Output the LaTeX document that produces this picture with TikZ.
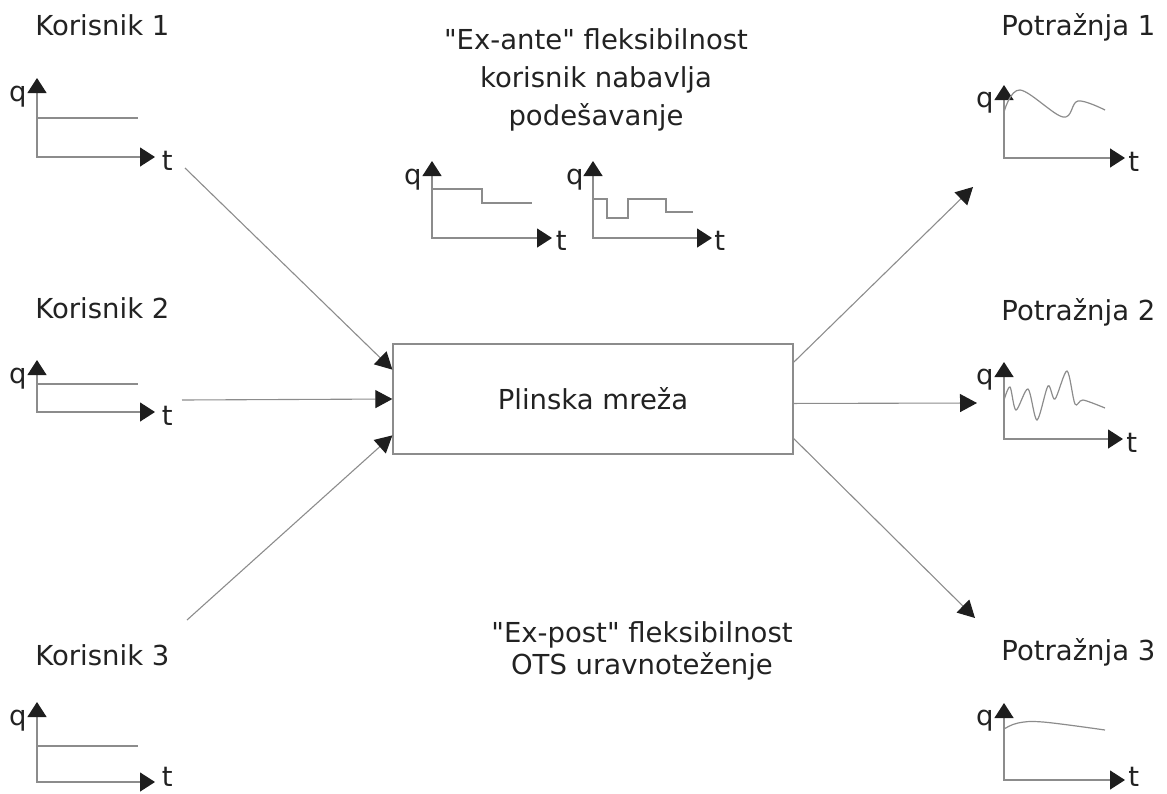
\documentclass[tikz,border=0pt]{standalone}
\usepackage{fontspec}
\setmainfont{DejaVu Sans}
\usepackage{tikz}
\usetikzlibrary{arrows.meta}
\usetikzlibrary{calc}
\definecolor{linegray}{HTML}{8C8C8C}
\definecolor{tipblack}{HTML}{1E1E1E}
\definecolor{textdark}{HTML}{222222}

\begin{document}
\begin{tikzpicture}[x=0.5pt, y=-0.5pt,
  lbl/.style={inner sep=0pt, text=textdark, font=\fontsize{13.75}{19}\selectfont},
  axis/.style={draw=linegray, line width=0.65pt, {Triangle[length=7.5pt,width=9.5pt,color=tipblack]}-{Triangle[length=7.5pt,width=9.5pt,color=tipblack]}},
  curve/.style={draw=linegray, line width=0.6pt},
  flow/.style={draw=linegray, line width=0.55pt, -{Triangle[length=8.5pt,width=9pt,color=tipblack]}},
  box/.style={draw=linegray, line width=0.65pt, minimum width=200pt, minimum height=55pt, inner sep=0pt}]
\useasboundingbox (0,0) rectangle (1167,793);
\begin{scope}
  \node[box, lbl] (net) at (593,399) {Plinska mreža}; %network
  % users
  \node[lbl, anchor=base west] (user1) at (35,35) {Korisnik 1};
  \draw[axis] (37,78) |- (155,157);
  \node[lbl, anchor=base east] (q1) at (27,101) {q};
  \node[lbl, anchor=base west] (t1) at (161.5,170) {t};
  \draw[curve] (37,118) -- (138,118); %flat
  \node[lbl, anchor=base west] (user2) at (35,318) {Korisnik 2};
  \draw[axis] (37,360) |- (155,412);
  \node[lbl, anchor=base east] (q2) at (27,383) {q};
  \node[lbl, anchor=base west] (t2) at (161.5,425) {t};
  \draw[curve] (37,384) -- (138,384); %flat
  \node[lbl, anchor=base west] (user3) at (35,665) {Korisnik 3};
  \draw[axis] (37,702) |- (155,782);
  \node[lbl, anchor=base east] (q3) at (27,725) {q};
  \node[lbl, anchor=base west] (t3) at (161.5,786) {t};
  \draw[curve] (37,746) -- (138,746); %flat
  % ex-ante
  \node[lbl, align=center] (exante) at (596,80) {\textquotedbl Ex-ante\textquotedbl{} fleksibilnost\\korisnik nabavlja\\podešavanje};
  \draw[axis] (432,161) |- (552,238);
  \node[lbl, anchor=base east] (qa) at (422,184) {q};
  \node[lbl, anchor=base west] (ta) at (555.5,250) {t};
  \draw[curve] (432,189) -| (482,203) -- (532,203); %step
  \draw[axis] (593,161) |- (712,238);
  \node[lbl, anchor=base east] (qb) at (584,184) {q};
  \node[lbl, anchor=base west] (tb) at (714,250) {t};
  \draw[curve] (593,199) -| (607,218) -| (628,199) -| (666,212) -- (693,212); %steps
  % ex-post
  \node[lbl, align=center, font=\fontsize{13.75}{16}\selectfont] (expost) at (642,651) {\textquotedbl Ex-post\textquotedbl{} fleksibilnost\\OTS uravnoteženje};
  % demand
  \node[lbl, anchor=base west] (dem1) at (1001,35) {Potražnja 1};
  \draw[axis] (1004,85) |- (1125,158);
  \node[lbl, anchor=base east] (qd1) at (994,107) {q};
  \node[lbl, anchor=base west] (td1) at (1128,171) {t};
  \draw[curve] plot[smooth, tension=0.6] coordinates {(1004,112) (1020,90) (1063,117) (1078,101) (1105,110)};
  \node[lbl, anchor=base west] (dem2) at (1001,320) {Potražnja 2};
  \draw[axis] (1004,362) |- (1123,439);
  \node[lbl, anchor=base east] (qd2) at (994,384) {q};
  \node[lbl, anchor=base west] (td2) at (1126,452) {t};
  \draw[curve] plot[smooth, tension=0.5] coordinates {(1004,400) (1010,387) (1016,410) (1028,389) (1037,420) (1048,386) (1055,399) (1067,371) (1075,404) (1083,400) (1105,408)};
  \node[lbl, anchor=base west] (dem3) at (1001,660) {Potražnja 3};
  \draw[axis] (1004,703) |- (1125,780);
  \node[lbl, anchor=base east] (qd3) at (994,725) {q};
  \node[lbl, anchor=base west] (td3) at (1128,786) {t};
  \draw[curve] plot[smooth, tension=0.6] coordinates {(1004,729) (1018,723) (1043,722) (1105,730)};
  % flows
  \coordinate (in1) at (185,168);
  \coordinate (in2) at (182,400);
  \coordinate (in3) at (187,620);
  \coordinate (out1) at (973,187);
  \coordinate (out2) at (977,403);
  \coordinate (out3) at (975,618);
  \draw[flow] (in1) -- ($(net.north west)!0.236!(net.south west)$);
  \draw[flow] (in2) -- (net.west);
  \draw[flow] (in3) -- ($(net.north west)!0.827!(net.south west)$);
  \draw[flow] ($(net.north east)!0.17!(net.south east)$) -- (out1);
  \draw[flow] ($(net.north east)!0.54!(net.south east)$) -- (out2);
  \draw[flow] ($(net.north east)!0.855!(net.south east)$) -- (out3);
\end{scope}
\end{tikzpicture}
\end{document}
